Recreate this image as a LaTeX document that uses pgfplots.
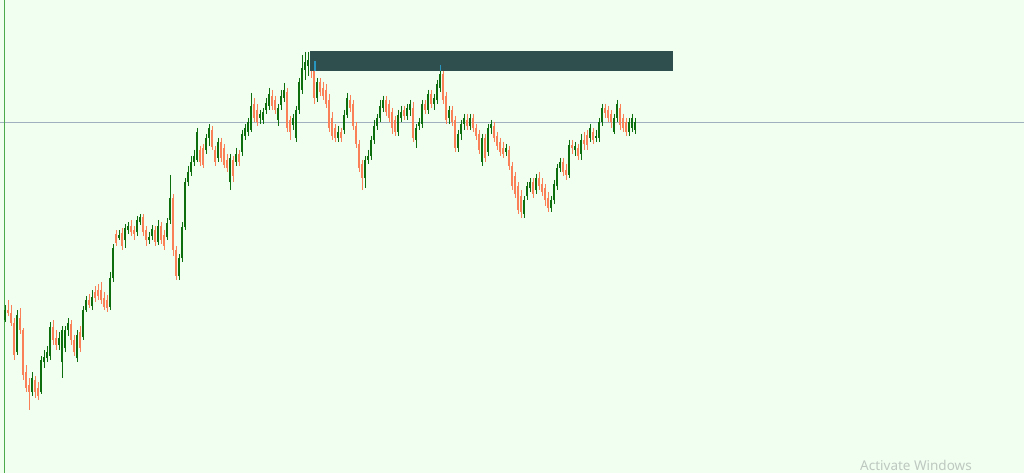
\documentclass[border=0pt]{standalone}
\usepackage{pgfplots}
\pgfplotsset{compat=1.18}
\usepackage{pgfplotstable}
\usepackage{fontspec}
\newfontfamily\winfont{Noto Sans}
\definecolor{bg}{RGB}{240,255,240}
\definecolor{boxc}{RGB}{47,79,79}
\definecolor{hline}{RGB}{160,176,190}
\definecolor{vline}{RGB}{76,170,76}
\definecolor{wm}{RGB}{190,200,192}
\definecolor{bluec}{RGB}{40,150,190}
\pgfplotstableread[row sep=\\]{
x o h l c\\
5 320 305 322 310\\ 8 310 300 316 313\\ 11 313 305 326 323\\ 14 323 318 360 355\\
17 352 310 355 315\\ 20 318 308 334 330\\ 23 330 328 380 375\\ 26 372 365 392 388\\
29 385 378 410 392\\ 32 392 372 396 378\\ 35 380 376 398 392\\ 38 388 382 400 396\\
41 392 356 394 360\\ 44 362 350 368 357\\ 47 358 346 362 352\\ 50 356 322 360 327\\
53 327 320 345 340\\ 56 338 330 350 345\\ 59 345 332 350 338\\ 62 362 326 378 330\\
65 348 326 352 330\\ 68 330 318 336 323\\ 71 324 320 345 340\\ 74 340 335 356 352\\
77 358 330 362 335\\ 80 332 326 352 348\\ 83 337 306 340 310\\ 86 310 296 312 300\\
89 300 294 308 305\\ 92 306 290 310 297\\ 95 292 286 302 298\\ 98 290 284 300 296\\
101 290 282 304 300\\ 104 298 292 310 307\\ 107 300 295 312 308\\ 110 307 272 310 278\\
113 278 244 282 248\\ 116 234 230 246 243\\ 119 238 230 240 235\\ 122 233 228 250 246\\
125 240 224 248 228\\ 128 230 222 234 226\\ 131 226 220 236 232\\ 134 230 226 240 234\\
137 232 216 236 220\\ 140 222 214 225 217\\ 143 217 214 236 232\\ 146 230 226 246 240\\
149 240 232 244 237\\ 152 236 225 240 229\\ 155 230 226 246 242\\ 158 242 220 245 226\\
161 226 222 244 240\\ 164 235 230 250 246\\ 167 237 218 240 223\\ 170 220 175 224 198\\
173 198 194 256 250\\ 176 250 246 280 276\\ 179 276 254 280 258\\ 182 258 222 262 227\\
185 227 178 230 182\\ 188 182 166 186 172\\ 191 172 156 176 162\\ 194 162 150 166 156\\
197 160 128 162 132\\ 200 150 146 166 162\\ 203 148 144 168 165\\ 206 150 134 154 138\\
209 138 124 146 128\\ 212 130 126 150 147\\ 215 150 146 166 162\\ 218 158 138 162 142\\
221 142 138 162 158\\ 224 148 144 168 165\\ 227 160 154 172 168\\ 230 182 154 190 158\\
233 160 156 182 176\\ 236 162 148 166 154\\ 239 154 150 166 162\\ 242 152 130 156 134\\
245 136 124 140 128\\ 248 132 118 136 122\\ 251 130 93 132 106\\ 254 104 98 122 118\\
257 110 104 126 122\\ 260 118 110 124 114\\ 263 120 108 124 112\\ 266 110 98 114 103\\
269 106 88 110 94\\ 272 96 90 110 106\\ 275 100 96 114 110\\ 278 120 104 126 108\\
281 105 90 110 96\\ 284 98 83 102 90\\ 287 92 88 132 128\\ 290 120 116 140 132\\
293 125 114 130 118\\ 296 138 106 142 110\\ 299 110 78 114 82\\ 302 90 55 94 68\\
305 70 52 80 62\\ 308 66 52 76 60\\ 311 62 56 78 68\\ 314 64 60 104 98\\
317 98 78 102 82\\ 320 82 78 96 92\\ 323 88 82 100 96\\ 326 90 84 108 104\\
329 100 94 132 128\\ 332 118 112 140 136\\ 335 128 124 142 138\\ 338 138 126 142 132\\
341 132 128 142 138\\ 344 130 110 134 115\\ 347 115 93 118 98\\ 350 100 95 112 108\\
353 104 100 130 126\\ 356 126 122 148 144\\ 359 144 140 172 168\\ 362 164 160 190 178\\
365 178 156 188 160\\ 368 160 150 164 156\\ 371 156 136 160 140\\ 374 140 120 144 126\\
377 126 114 130 118\\ 380 118 100 122 106\\ 383 108 96 112 100\\ 386 100 96 116 112\\
389 104 100 122 118\\ 392 112 108 134 128\\ 395 120 116 136 132\\ 398 132 110 136 115\\
401 118 106 122 112\\ 404 110 106 120 116\\ 407 116 104 120 108\\ 410 110 100 116 104\\
413 108 102 142 138\\ 416 140 124 148 128\\ 419 126 118 130 122\\ 422 124 100 128 104\\
425 104 100 114 110\\ 428 110 90 114 94\\ 431 94 90 108 104\\ 434 104 94 110 98\\
437 100 80 104 84\\ 440 88 65 92 74\\ 443 74 70 104 100\\ 446 96 92 124 120\\
449 118 106 124 110\\ 452 110 106 126 122\\ 455 120 116 152 148\\ 458 148 130 152 134\\
461 134 120 140 124\\ 464 124 114 130 118\\ 467 120 114 130 126\\ 470 126 114 130 118\\
473 118 114 132 128\\ 476 128 124 140 136\\ 479 134 130 154 150\\ 482 162 134 166 138\\
485 138 134 162 158\\ 488 152 124 156 128\\ 491 128 120 134 124\\ 494 126 122 142 138\\
497 136 132 150 146\\ 500 142 138 156 152\\ 503 148 142 158 154\\ 506 152 144 156 148\\
509 150 146 170 166\\ 512 166 162 190 186\\ 515 176 172 198 194\\ 518 186 182 214 210\\
521 196 190 218 212\\ 524 214 196 218 200\\ 527 196 182 200 186\\ 530 188 178 192 182\\
533 182 178 198 194\\ 536 190 174 194 178\\ 539 178 172 190 186\\ 542 184 178 196 192\\
545 188 184 206 200\\ 548 198 192 212 208\\ 551 208 196 212 200\\ 554 200 180 204 184\\
557 186 164 190 168\\ 560 168 158 172 162\\ 563 162 158 176 172\\ 566 170 164 180 175\\
569 175 140 178 145\\ 572 145 140 154 148\\ 575 150 142 156 146\\ 578 148 144 160 156\\
581 154 134 160 140\\ 584 140 132 150 144\\ 587 135 130 150 145\\ 590 138 124 142 128\\
593 132 128 144 140\\ 596 138 130 142 136\\ 599 138 118 142 122\\ 602 122 104 126 108\\
605 108 104 118 113\\ 608 110 106 122 118\\ 611 114 110 128 122\\ 614 132 114 134 118\\
617 118 100 122 104\\ 620 108 104 130 125\\ 623 118 114 132 128\\ 626 122 118 136 132\\
629 132 118 136 122\\ 632 128 114 132 118\\ 635 130 118 134 122\\
}\candles
\begin{document}
\begin{tikzpicture}
\fill[bg] (0,0) rectangle (1024pt,473pt);
\begin{axis}[
  at={(0,0)}, anchor=south west,
  width=1024pt, height=473pt, scale only axis,
  xmin=0, xmax=1024, ymin=0, ymax=473, y dir=reverse,
  axis lines=none, ticks=none,
  colormap={ud}{rgb255=(250,128,88) rgb255=(12,110,12)},
  point meta min=0, point meta max=1,
]
\addplot[hline, line width=0.8pt] coordinates {(0,122) (1024,122)};
\addplot[vline, line width=1pt] coordinates {(4,0) (4,473)};
% wicks
\addplot[mark=none, line width=0.9pt,
  point meta={ifthenelse(\thisrow{c}<\thisrow{o},1,0)},
  quiver={u=0, v=\thisrow{l}-\thisrow{h}, colored=mapped color}]
  table[x=x, y=h] {\candles};
% bodies
\addplot[mark=none, line width=2.2pt,
  point meta={ifthenelse(\thisrow{c}<\thisrow{o},1,0)},
  quiver={u=0, v=\thisrow{c}-\thisrow{o}, colored=mapped color}]
  table[x=x, y=o] {\candles};
\fill[boxc] (axis cs:310,51) rectangle (axis cs:673,71);
\addplot[bluec, line width=2pt] coordinates {(315,61) (315,71)};
\addplot[bluec, line width=1pt] coordinates {(440,65) (440,71)};
\node[anchor=base west, text=wm, font=\winfont\fontsize{13.5}{16}\selectfont, inner sep=0pt] at (axis cs:860,470) {Activate Windows};
\end{axis}
\end{tikzpicture}
\end{document}
